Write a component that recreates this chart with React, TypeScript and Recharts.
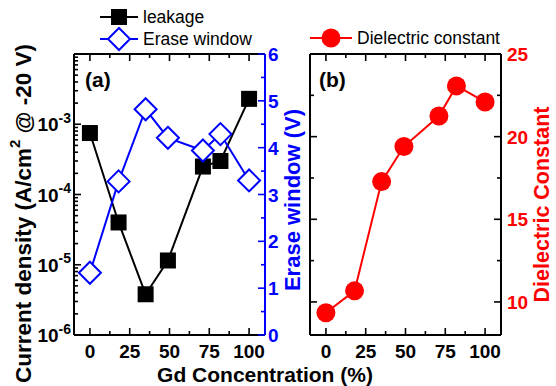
import React from "react";
import { Legend, Line, LineChart, XAxis, YAxis } from "recharts";

const FONT = "'Liberation Sans', Arial, sans-serif";
const BLUE = "#0000FF";
const RED = "#FF0000";

// Gd concentration (%)
const GD = [0, 18, 35, 49, 71, 82, 100];
// panel (a)
const LEAKAGE = [7.5e-4, 4.0e-5, 3.8e-6, 1.15e-5, 2.5e-4, 3.0e-4, 2.3e-3];
const ERASE = [1.33, 3.28, 4.82, 4.21, 3.94, 4.29, 3.3];
// panel (b)
const KAPPA = [9.35, 10.67, 17.28, 19.4, 21.25, 23.07, 22.1];

const X_TICKS = [0, 12.5, 25, 37.5, 50, 62.5, 75, 87.5, 100];
const X_LABELS = [0, 25, 50, 75, 100];
const LOG_DECADES = [-6, -5, -4, -3];
const LOG_MANTISSAS = [1, 2, 3, 4, 5, 6, 7, 8, 9];
const ERASE_TICKS = [0, 0.5, 1, 1.5, 2, 2.5, 3, 3.5, 4, 4.5, 5, 5.5, 6];
const ERASE_LABELS = [0, 1, 2, 3, 4, 5, 6];
const KAPPA_TICKS = [10, 12.5, 15, 17.5, 20, 22.5, 25];
const KAPPA_LABELS = [10, 15, 20, 25];

const LOG_TICKS = LOG_DECADES.flatMap((d) => LOG_MANTISSAS.map((m) => m * Math.pow(10, d)));

const dataA = GD.map((x, i) => ({ x, leak: LEAKAGE[i], erase: ERASE[i] }));
const dataB = GD.map((x, i) => ({ x, k: KAPPA[i] }));

const SERIES_A = [
  { key: "leak", name: "leakage", color: "#000", marker: "square" },
  { key: "erase", name: "Erase window", color: BLUE, marker: "diamond" },
];
const SERIES_B = [{ key: "k", name: "Dielectric constant", color: RED, marker: "circle" }];

const has = (list: number[], v: number) => list.some((m) => Math.abs(m - v) < 1e-9);

function Marker({ kind, cx, cy, color }: { kind: string; cx: number; cy: number; color: string }) {
  if (kind === "square") return <rect x={cx - 8} y={cy - 8} width={16} height={16} fill={color} />;
  if (kind === "diamond")
    return (
      <polygon
        points={`${cx},${cy - 11} ${cx + 11},${cy} ${cx},${cy + 11} ${cx - 11},${cy}`}
        fill="#fff"
        stroke={color}
        strokeWidth={2}
      />
    );
  return <circle cx={cx} cy={cy} r={9.5} fill={color} />;
}

const dot = (kind: string, color: string) => (p: any) =>
  p.cx == null ? <g key={p.key} /> : <Marker key={p.key} kind={kind} cx={p.cx} cy={p.cy} color={color} />;

type TickOpts = {
  side: "left" | "right" | "bottom" | "top";
  labels?: number[];
  majors?: number[];
  log?: boolean;
  tickColor?: string;
  labelColor?: string;
  offset?: number;
};

const makeTick = (o: TickOpts) => (props: any) => {
  const { x, y, payload } = props;
  const v = payload.value as number;
  const major = o.log
    ? Math.abs(Math.log10(v) - Math.round(Math.log10(v))) < 1e-6
    : has(o.majors ?? o.labels ?? [], v);
  const len = major ? 7 : 4;
  const stroke = o.tickColor ?? "#000";
  let tick;
  if (o.side === "left") tick = <line x1={x} x2={x + len} y1={y} y2={y} />;
  else if (o.side === "right") tick = <line x1={x} x2={x - len} y1={y} y2={y} />;
  else if (o.side === "bottom") tick = <line x1={x} x2={x} y1={y} y2={y - len} />;
  else tick = <line x1={x} x2={x} y1={y} y2={y + len} />;

  let label = null;
  const style = { fontFamily: FONT, fontWeight: 700, fontSize: 19 };
  const fill = o.labelColor ?? "#000";
  if (o.log && major) {
    label = (
      <text x={x - 3} y={y + 7} textAnchor="end" fill={fill} style={style}>
        10
        <tspan dy={-8.5} fontSize={14}>
          {Math.round(Math.log10(v))}
        </tspan>
      </text>
    );
  } else if (o.labels && has(o.labels, v)) {
    if (o.side === "bottom")
      label = (
        <text x={x} y={y + 22.5} textAnchor="middle" fill={fill} style={style}>
          {v}
        </text>
      );
    else if (o.side === "right")
      label = (
        <text x={x + (o.offset ?? 3)} y={y + 7} textAnchor="start" fill={fill} style={style}>
          {v}
        </text>
      );
  }
  return (
    <g>
      <g stroke={stroke} strokeWidth={1.6}>{tick}</g>
      {label}
    </g>
  );
};

const legendContent = (meta: typeof SERIES_A, lineLen: number) => () => (
  <svg width={220} height={50} style={{ overflow: "visible" }}>
    {meta.map((s, i) => {
      const y = meta.length === 1 ? 38 : 17 + i * 22;
      return (
        <g key={s.key}>
          <line x1={10} x2={10 + lineLen} y1={y} y2={y} stroke={s.color} strokeWidth={2} />
          <Marker kind={s.marker} cx={10 + lineLen / 2} cy={y} color={s.color} />
          <text
            x={15 + lineLen}
            y={y}
            dominantBaseline="central"
            style={{ fontFamily: FONT, fontSize: 17.5 }}
            fill="#000"
          >
            {s.name}
          </text>
        </g>
      );
    })}
  </svg>
);

const axisLine = (color: string) => ({ stroke: color, strokeWidth: 2 });

export default function App() {
  return (
    <div style={{ position: "absolute", left: 0, top: 0, width: 556, height: 386, background: "#fff" }}>
      <div style={{ position: "absolute", left: 0, top: 0 }}>
        <LineChart width={310} height={386} data={dataA} margin={{ top: 24, right: 0, bottom: 0, left: 0 }}>
          <XAxis
            xAxisId="b"
            dataKey="x"
            type="number"
            domain={[-10, 110]}
            allowDataOverflow
            ticks={X_TICKS}
            interval={0}
            height={51}
            tickSize={0}
            tickMargin={0}
            axisLine={axisLine("#000")}
            tickLine={false}
            tick={makeTick({ side: "bottom", labels: X_LABELS })}
          />
          <XAxis
            xAxisId="t"
            orientation="top"
            dataKey="x"
            type="number"
            domain={[-10, 110]}
            allowDataOverflow
            ticks={X_TICKS}
            interval={0}
            height={30}
            tickSize={0}
            tickMargin={0}
            axisLine={axisLine("#000")}
            tickLine={false}
            tick={makeTick({ side: "top", majors: X_LABELS })}
          />
          <YAxis
            yAxisId="l"
            scale="log"
            type="number"
            domain={[1e-6, 1e-2]}
            allowDataOverflow
            ticks={LOG_TICKS}
            interval={0}
            width={74}
            tickSize={0}
            tickMargin={0}
            axisLine={axisLine("#000")}
            tickLine={false}
            tick={makeTick({ side: "left", log: true })}
          />
          <YAxis
            yAxisId="r"
            orientation="right"
            type="number"
            domain={[0, 6]}
            allowDataOverflow
            ticks={ERASE_TICKS}
            interval={0}
            width={45}
            tickSize={0}
            tickMargin={0}
            axisLine={axisLine(BLUE)}
            tickLine={false}
            tick={makeTick({ side: "right", labels: ERASE_LABELS, tickColor: BLUE, labelColor: BLUE, offset: 3 })}
          />
          <Legend
            layout="vertical"
            align="center"
            verticalAlign="middle"
            wrapperStyle={{ left: 90, top: 0, width: 220, height: 50 }}
            content={legendContent(SERIES_A, 38)}
          />
          <Line
            xAxisId="b"
            yAxisId="l"
            type="linear"
            dataKey="leak"
            name="leakage"
            stroke="#000"
            strokeWidth={2}
            dot={dot("square", "#000")}
            activeDot={false}
            isAnimationActive={false}
          />
          <Line
            xAxisId="b"
            yAxisId="r"
            type="linear"
            dataKey="erase"
            name="Erase window"
            stroke={BLUE}
            strokeWidth={2}
            dot={dot("diamond", BLUE)}
            activeDot={false}
            isAnimationActive={false}
          />
        </LineChart>
      </div>

      <div style={{ position: "absolute", left: 280, top: 0 }}>
        <LineChart width={276} height={386} data={dataB} margin={{ top: 24, right: 0, bottom: 0, left: 0 }}>
          <XAxis
            xAxisId="b"
            dataKey="x"
            type="number"
            domain={[-10, 110]}
            allowDataOverflow
            ticks={X_TICKS}
            interval={0}
            height={51}
            tickSize={0}
            tickMargin={0}
            axisLine={axisLine("#000")}
            tickLine={false}
            tick={makeTick({ side: "bottom", labels: X_LABELS })}
          />
          <XAxis
            xAxisId="t"
            orientation="top"
            dataKey="x"
            type="number"
            domain={[-10, 110]}
            allowDataOverflow
            ticks={X_TICKS}
            interval={0}
            height={30}
            tickSize={0}
            tickMargin={0}
            axisLine={axisLine("#000")}
            tickLine={false}
            tick={makeTick({ side: "top", majors: X_LABELS })}
          />
          <YAxis
            yAxisId="l"
            type="number"
            domain={[8, 25]}
            allowDataOverflow
            ticks={KAPPA_TICKS}
            interval={0}
            width={30}
            tickSize={0}
            tickMargin={0}
            axisLine={axisLine("#000")}
            tickLine={false}
            tick={makeTick({ side: "left", majors: KAPPA_LABELS })}
          />
          <YAxis
            yAxisId="r"
            orientation="right"
            type="number"
            domain={[8, 25]}
            allowDataOverflow
            ticks={KAPPA_TICKS}
            interval={0}
            width={55}
            tickSize={0}
            tickMargin={0}
            axisLine={axisLine("#000")}
            tickLine={false}
            tick={makeTick({ side: "right", labels: KAPPA_LABELS, labelColor: RED, offset: 6 })}
          />
          <Legend
            layout="vertical"
            align="center"
            verticalAlign="middle"
            wrapperStyle={{ left: 20, top: 0, width: 220, height: 50 }}
            content={legendContent(SERIES_B, 42)}
          />
          <Line
            xAxisId="b"
            yAxisId="r"
            type="linear"
            dataKey="k"
            name="Dielectric constant"
            stroke={RED}
            strokeWidth={2}
            dot={dot("circle", RED)}
            activeDot={false}
            isAnimationActive={false}
          />
        </LineChart>
      </div>

      <svg
        width={556}
        height={386}
        style={{ position: "absolute", left: 0, top: 0, pointerEvents: "none", fontFamily: FONT, fontWeight: 700 }}
      >
        <text transform="translate(23,213.5) rotate(-90)" textAnchor="middle" dominantBaseline="central" fontSize={22.5}>
          Current density (A/cm
          <tspan dy={-9} fontSize={15}>
            2
          </tspan>
          <tspan dy={9}>{" @ -20 V)"}</tspan>
        </text>
        <text
          transform="translate(292,200) rotate(-90)"
          textAnchor="middle"
          dominantBaseline="central"
          fontSize={22}
          fill={BLUE}
        >
          Erase window (V)
        </text>
        <text
          transform="translate(542,204.5) rotate(-90)"
          textAnchor="middle"
          dominantBaseline="central"
          fontSize={21.5}
          fill={RED}
        >
          Dielectric Constant
        </text>
        <text x={265} y={382} textAnchor="middle" fontSize={21}>
          Gd Concentration (%)
        </text>
        <text x={85} y={87} fontSize={21}>
          (a)
        </text>
        <text x={319} y={87} fontSize={21}>
          (b)
        </text>
      </svg>
    </div>
  );
}
